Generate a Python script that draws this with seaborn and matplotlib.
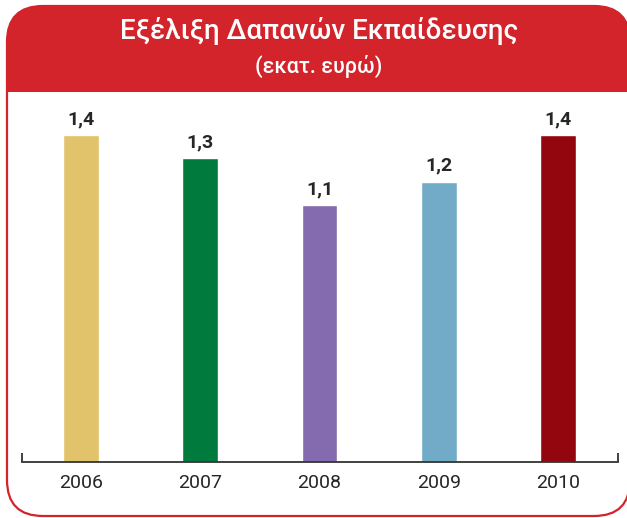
import matplotlib
matplotlib.use("Agg")
import matplotlib.pyplot as plt
from matplotlib.patches import FancyBboxPatch, Rectangle
import seaborn as sb
from pandas import DataFrame

# data
years = ["2006", "2007", "2008", "2009", "2010"]
values = [1.4, 1.3, 1.1, 1.2, 1.4]
colors = ["#E0C36A", "#007A3D", "#846AAE", "#72ABC8", "#93060D"]
title = "Εξέλιξη Δαπανών Εκπαίδευσης"
subtitle = "(εκατ. ευρώ)"

RED = "#D3232B"
TXT = "#262626"

sb.set_theme(style="white")
plt.rcParams["font.family"] = ["Roboto", "DejaVu Sans"]

W, H = 627, 518
fig = plt.figure(figsize=(W / 100, H / 100), dpi=100)

# background frame drawn in pixel units
bg = fig.add_axes([0, 0, 1, 1], zorder=0)
bg.set_xlim(0, W)
bg.set_ylim(H, 0)
bg.axis("off")

frame = FancyBboxPatch((7, 6), 623, 510, boxstyle="round,pad=0,rounding_size=36",
                       facecolor="white", edgecolor=RED, linewidth=1.6)
bg.add_patch(frame)
header = FancyBboxPatch((7, 6), 623, 510, boxstyle="round,pad=0,rounding_size=36",
                        facecolor=RED, edgecolor="none")
bg.add_patch(header)
clip = Rectangle((0, 0), W, 92, transform=bg.transData)
header.set_clip_path(clip)

bg.text(319, 31, title, color="white", fontsize=20, fontweight="medium",
        ha="center", va="center")
bg.text(319, 66, subtitle, color="white", fontsize=15.5, fontweight="medium",
        ha="center", va="center")

# bar chart
t = DataFrame({"year": years, "value": values})
x0, x1 = 21.5, 617.5
ybot, ytop = 462, 100
ax = fig.add_axes([x0 / W, (H - ybot) / H, (x1 - x0) / W, (ybot - ytop) / H], zorder=1)
ax.patch.set_alpha(0)

sb.barplot(data=t, x="year", y="value", hue="year", palette=colors, width=0.3,
           legend=False, saturation=1, ax=ax)
ax.set_xlim(-0.5, len(years) - 0.5)
ax.set_ylim(0, (ybot - ytop) / 233.6)

for c in ax.containers:
    ax.bar_label(c, labels=[f"{v:.1f}".replace(".", ",") for v in c.datavalues],
                 padding=5, fontsize=14, fontweight="bold", color=TXT)

ax.set_xlabel("")
ax.set_ylabel("")
ax.set_yticks([])
ax.tick_params(axis="x", length=0, pad=9, labelsize=14, labelcolor=TXT)
for s in ["top", "left", "right"]:
    ax.spines[s].set_visible(False)
ax.spines["bottom"].set_color("#333333")
ax.spines["bottom"].set_linewidth(1.3)
# small upward ticks at both ends of the baseline
ax.vlines([-0.5, len(years) - 0.5], 0, 9 / 233.6, color="#333333", linewidth=1.3,
          clip_on=False)

fig.savefig("out.png", dpi=100)
